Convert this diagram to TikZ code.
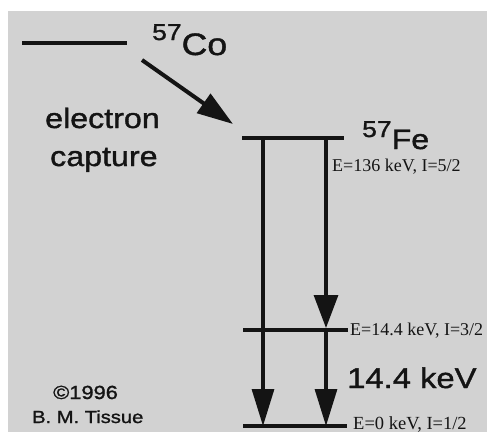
\documentclass[tikz,border=0pt]{standalone}
\usepackage{fontspec}
\usetikzlibrary{arrows.meta}
\newfontfamily\lsans[FakeStretch=1.15,FakeBold=1.3]{Liberation Sans}
\newfontfamily\lserif{Liberation Serif}
\definecolor{bggray}{RGB}{210,210,210}
\definecolor{ink}{RGB}{20,20,20}
\begin{document}
\begin{tikzpicture}[x=1pt,y=-1pt,
  level/.style={line width=3.2pt,draw=ink},
  trans/.style={line width=3.2pt,draw=ink,-{Triangle[length=37pt,width=22pt]}},
  capt/.style={line width=4pt,draw=ink,-{Triangle[length=36pt,width=23pt]}},
  sans/.style={inner sep=0pt,anchor=base west,text=ink,font=\lsans},
  serif/.style={inner sep=0pt,anchor=base west,text=ink,font=\lserif\fontsize{18}{18}\selectfont}]
\useasboundingbox (0,0) rectangle (487,432);
\fill[white] (0,0) rectangle (487,432);
\fill[bggray] (8,11) rectangle (487,432);
% levels
\coordinate (coL) at (22,43);  \coordinate (coR) at (127,43);
\coordinate (feL) at (242,138); \coordinate (feR) at (344,138);
\coordinate (mL) at (243,330); \coordinate (mR) at (348,330);
\coordinate (gL) at (243,426); \coordinate (gR) at (347,426);
\draw[level] (coL) -- (coR);
\draw[level] (feL) -- (feR);
\draw[level] (mL) -- (mR);
\draw[level] (gL) -- (gR);
% electron capture arrow
\coordinate (cs) at (142,60); \coordinate (ce) at (233,124);
\draw[capt] (cs) -- (ce);
% transitions
\coordinate (a1) at (263,138); \coordinate (a1e) at (263,426);
\coordinate (b1) at (326,138); \coordinate (b1e) at (326,328);
\coordinate (b2) at (326,330); \coordinate (b2e) at (326,426);
\draw[trans] (a1) -- (a1e);
\draw[trans,-{Triangle[length=33pt,width=24pt]}] (b1) -- (b1e);
\draw[trans] (b2) -- (b2e);
% labels
\node[sans] (co) at (152,55) {\raisebox{15pt}{\fontsize{23}{23}\selectfont 57}\fontsize{31}{31}\selectfont Co};
\node[sans] (fe) at (362,149) {\raisebox{12pt}{\fontsize{23}{23}\selectfont 57}\fontsize{28}{28}\selectfont Fe};
\node[sans,font=\lsans\fontsize{28}{28}\selectfont] (el) at (45,128) {electron};
\node[sans,font=\lsans\fontsize{28}{28}\selectfont] (cap) at (50,166) {capture};
\node[serif] (e136) at (332,171) {E=136 keV, I=5/2};
\node[serif] (e14) at (350,335) {E=14.4 keV, I=3/2};
\node[sans,font=\lsans\fontsize{28.5}{28}\selectfont] (kev) at (347,388) {14.4 keV};
\node[serif,font=\lserif\fontsize{18.5}{19}\selectfont] (e0) at (353,429) {E=0 keV, I=1/2};
\node[sans,font=\lsans\fontsize{19}{19}\selectfont] (copy) at (53,399) {©1996};
\node[sans,font=\lsans\fontsize{17.5}{17}\selectfont] (auth) at (32,423) {B. M. Tissue};
\end{tikzpicture}
\end{document}
